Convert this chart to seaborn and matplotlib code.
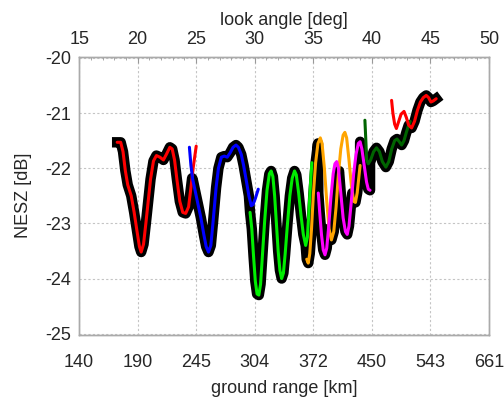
import numpy as np
import pandas as pd
import matplotlib
matplotlib.use("Agg")
import matplotlib.pyplot as plt
import seaborn as sns

# --- data ---
# look angle [deg] and NESZ [dB] for each beam
beam1_ang = [18.25, 18.55, 18.75, 18.95, 19.15, 19.45, 19.7, 19.95, 20.15, 20.3, 20.5, 20.7, 20.9, 21.1,
             21.35, 21.6, 21.9, 22.2, 22.45, 22.75, 22.95, 23.15, 23.35, 23.6, 23.85, 24.1, 24.35, 24.55,
             24.75, 25.0]
beam1_nesz = [-21.53, -21.53, -21.7, -22.05, -22.3, -22.5, -22.8, -23.15, -23.42, -23.52, -23.38, -23.0,
              -22.6, -22.2, -21.87, -21.77, -21.8, -21.85, -21.75, -21.62, -21.65, -21.85, -22.2, -22.6,
              -22.8, -22.82, -22.7, -22.35, -21.98, -21.6]

beam2_ang = [24.42, 24.55, 24.7, 24.95, 25.15, 25.4, 25.65, 25.85, 26.05, 26.25, 26.45, 26.7, 26.9, 27.15,
             27.4, 27.65, 27.9, 28.15, 28.4, 28.6, 28.85, 29.05, 29.3, 29.5, 29.7, 29.85, 30.05, 30.3]
beam2_nesz = [-21.62, -21.95, -22.2, -22.45, -22.65, -22.9, -23.2, -23.42, -23.52, -23.4, -22.95, -22.35,
              -22.0, -21.8, -21.78, -21.8, -21.72, -21.62, -21.58, -21.62, -21.75, -21.95, -22.25, -22.5,
              -22.68, -22.66, -22.55, -22.38]

beam3_ang = [29.6, 29.75, 29.9, 30.05, 30.2, 30.35, 30.5, 30.65, 30.85, 31.05, 31.25, 31.4, 31.55, 31.7,
             31.85, 32.0, 32.15, 32.3, 32.45, 32.6, 32.8, 33.0, 33.2, 33.4, 33.55, 33.75, 33.95, 34.15,
             34.35, 34.5, 34.65, 34.8, 34.88]
beam3_nesz = [-22.8, -23.1, -23.6, -24.05, -24.28, -24.3, -24.1, -23.6, -22.95, -22.4, -22.1, -22.05,
              -22.15, -22.5, -23.0, -23.5, -23.85, -24.0, -23.9, -23.55, -23.0, -22.5, -22.18, -22.05,
              -22.12, -22.45, -22.85, -23.2, -23.4, -23.25, -22.7, -22.15, -21.9]

beam4_ang = [34.44, 34.57, 34.7, 34.85, 35.0, 35.2, 35.4, 35.6, 35.75, 35.95, 36.15, 36.35, 36.55, 36.75,
             36.95, 37.15, 37.35, 37.55, 37.7, 37.85, 38.05, 38.25, 38.45, 38.6, 38.75, 38.9, 39.0]
beam4_nesz = [-23.65, -23.72, -23.55, -23.1, -22.5, -21.9, -21.55, -21.45, -21.55, -22.0, -22.6, -23.1,
              -23.3, -23.15, -22.7, -22.1, -21.65, -21.4, -21.35, -21.45, -21.85, -22.3, -22.6, -22.62,
              -22.45, -22.15, -21.95]

beam5_ang = [35.43, 35.55, 35.7, 35.85, 36.0, 36.15, 36.3, 36.5, 36.7, 36.85, 37.0, 37.15, 37.35, 37.55,
             37.75, 37.9, 38.05, 38.25, 38.45, 38.65, 38.85, 39.0, 39.15, 39.35, 39.55, 39.7, 39.85]
beam5_nesz = [-22.45, -22.8, -23.2, -23.48, -23.57, -23.45, -23.1, -22.55, -22.1, -21.92, -21.88, -22.0,
              -22.45, -22.9, -23.15, -23.2, -23.05, -22.6, -22.1, -21.75, -21.55, -21.52, -21.65, -21.95,
              -22.25, -22.38, -22.4]

beam6_ang = [39.41, 39.48, 39.56, 39.7, 39.9, 40.15, 40.4, 40.65, 40.9, 41.2, 41.45, 41.7, 41.95, 42.15,
             42.35, 42.55, 42.75, 42.95, 43.1, 43.28]
beam6_nesz = [-21.13, -21.45, -21.85, -21.92, -21.85, -21.7, -21.63, -21.7, -21.88, -21.98, -21.88, -21.65,
              -21.5, -21.47, -21.52, -21.58, -21.5, -21.35, -21.25, -21.15]

beam7_ang = [41.69, 41.8, 41.95, 42.1, 42.3, 42.5, 42.75, 42.95, 43.15, 43.4, 43.65, 43.9, 44.15, 44.4,
             44.65, 44.85, 45.05, 45.25, 45.5]
beam7_nesz = [-20.77, -21.0, -21.2, -21.28, -21.15, -21.02, -20.97, -21.08, -21.22, -21.27, -21.15, -20.95,
              -20.8, -20.72, -20.68, -20.72, -20.8, -20.78, -20.74]

# combined (lowest) NESZ, drawn as the thick black curve
comb_ang = [18.25, 18.55, 18.75, 18.95, 19.15, 19.45, 19.7, 19.95, 20.15, 20.3, 20.5, 20.7, 20.9, 21.1,
            21.35, 21.6, 21.9, 22.2, 22.45, 22.75, 22.95, 23.15, 23.35, 23.6, 23.85, 24.1, 24.35, 24.55,
            24.65,
            24.7, 24.95, 25.15, 25.4, 25.65, 25.85, 26.05, 26.25, 26.45, 26.7, 26.9, 27.15, 27.4, 27.65,
            27.9, 28.15, 28.4, 28.6, 28.85, 29.05, 29.3, 29.5,
            29.6, 29.75, 29.9, 30.05, 30.2, 30.35, 30.5, 30.65, 30.85, 31.05, 31.25, 31.4, 31.55, 31.7,
            31.85, 32.0, 32.15, 32.3, 32.45, 32.6, 32.8, 33.0, 33.2, 33.4, 33.55, 33.75, 33.95, 34.15,
            34.35,
            34.44, 34.57, 34.7, 34.85, 35.0, 35.2, 35.4,
            35.43, 35.55, 35.7, 35.85, 36.0, 36.15, 36.3,
            36.35, 36.55, 36.75, 36.95, 37.15, 37.2,
            37.35, 37.55, 37.75, 37.9, 38.05, 38.25, 38.33,
            38.45, 38.6, 38.75, 38.9, 39.0,
            39.0, 39.15, 39.35, 39.55, 39.7, 39.85,
            39.85, 40.15, 40.4, 40.65, 40.9, 41.2, 41.45, 41.7, 41.95, 42.15, 42.35, 42.55, 42.75,
            42.95, 43.1,
            43.15, 43.4, 43.65, 43.9, 44.15, 44.4, 44.65, 44.85, 45.05, 45.25, 45.5]
comb_nesz = [-21.53, -21.53, -21.7, -22.05, -22.3, -22.5, -22.8, -23.15, -23.42, -23.52, -23.38, -23.0,
             -22.6, -22.2, -21.87, -21.77, -21.8, -21.85, -21.75, -21.62, -21.65, -21.85, -22.2, -22.6,
             -22.8, -22.82, -22.7, -22.35,
             -22.18,
             -22.2, -22.45, -22.65, -22.9, -23.2, -23.42, -23.52, -23.4, -22.95, -22.35, -22.0, -21.8,
             -21.78, -21.8, -21.72, -21.62, -21.58, -21.62, -21.75, -21.95, -22.25, -22.5,
             -22.8, -23.1, -23.6, -24.05, -24.28, -24.3, -24.1, -23.6, -22.95, -22.4, -22.1, -22.05,
             -22.15, -22.5, -23.0, -23.5, -23.85, -24.0, -23.9, -23.55, -23.0, -22.5, -22.18, -22.05,
             -22.12, -22.45, -22.85, -23.2, -23.4,
             -23.65, -23.72, -23.55, -23.1, -22.5, -21.9, -21.55,
             -22.45, -22.8, -23.2, -23.48, -23.57, -23.45, -23.1,
             -23.1, -23.3, -23.15, -22.7, -22.1, -22.05,
             -22.45, -22.9, -23.15, -23.2, -23.05, -22.6, -22.45,
             -22.6, -22.62, -22.45, -22.15, -21.95,
             -21.52, -21.65, -21.95, -22.25, -22.38, -22.4,
             -21.9, -21.7, -21.63, -21.7, -21.88, -21.98, -21.88, -21.65, -21.5, -21.47, -21.52, -21.58,
             -21.5, -21.35, -21.25,
             -21.22, -21.27, -21.15, -20.95, -20.8, -20.72, -20.68, -20.72, -20.8, -20.78, -20.74]

beam_colors = ["#ff0000", "#0000ff", "#00ee00", "#ffa500", "#ff00ff", "#006400", "#ff0000"]

angle_ticks = [15, 20, 25, 30, 35, 40, 45, 50]
ground_range_labels = ["140", "190", "245", "304", "372", "450", "543", "661"]
nesz_ticks = [-25, -24, -23, -22, -21, -20]

# --- style ---
sns.set_style("white")
plt.rcParams["font.family"] = ["Liberation Sans", "DejaVu Sans"]
plt.rcParams["font.size"] = 13

fig = plt.figure(figsize=(5.04, 4.0), dpi=100)
ax = fig.add_axes([0.157, 0.163, 0.813, 0.695])

# thick black combined curve first, beams on top
sns.lineplot(x=comb_ang, y=comb_nesz, sort=False, estimator=None, color="black",
             linewidth=7.5, ax=ax, solid_joinstyle="round", solid_capstyle="projecting")

beams = [(beam1_ang, beam1_nesz), (beam2_ang, beam2_nesz), (beam3_ang, beam3_nesz),
         (beam4_ang, beam4_nesz), (beam5_ang, beam5_nesz), (beam6_ang, beam6_nesz),
         (beam7_ang, beam7_nesz)]
for (xa, ya), col in zip(beams, beam_colors):
    sns.lineplot(x=xa, y=ya, sort=False, estimator=None, color=col, linewidth=2.2, ax=ax)

ax.set_xlim(15, 50)
ax.set_ylim(-25.02, -19.98)
ax.set_xticks(angle_ticks)
ax.set_xticklabels(ground_range_labels)
ax.set_yticks(nesz_ticks)
ax.set_yticklabels([str(v) for v in nesz_ticks])
ax.set_xlabel("ground range [km]", fontsize=13, labelpad=6)
ax.set_ylabel("NESZ [dB]", fontsize=13, labelpad=9)
ax.grid(True, color="#c4c4c4", linestyle=(0, (2, 2)), linewidth=0.8)

ax2 = ax.twiny()
ax2.set_xlim(15, 50)
ax2.set_xticks(angle_ticks)
ax2.set_xticks(np.arange(15, 51, 1), minor=True)
ax2.set_xlabel("look angle [deg]", fontsize=13, labelpad=5)
ax2.tick_params(axis="x", which="major", direction="in", length=4, color="#999999", labelsize=13, pad=6)
ax2.tick_params(axis="x", which="minor", direction="in", length=2, color="#999999")

ax.tick_params(axis="x", which="major", direction="in", length=0, labelsize=13, pad=14)
ax.tick_params(axis="y", which="major", direction="in", length=0, labelsize=13, pad=6)
for a in (ax, ax2):
    for sp in a.spines.values():
        sp.set_color("#aaaaaa")
        sp.set_linewidth(1.0)

fig.savefig("out.png", dpi=100)
